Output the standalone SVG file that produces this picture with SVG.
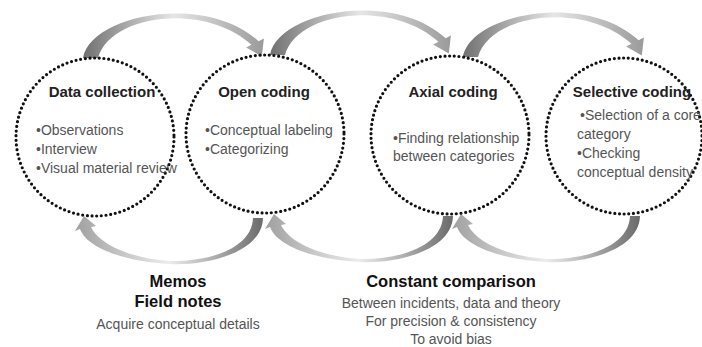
<svg xmlns="http://www.w3.org/2000/svg" width="702" height="347" viewBox="0 0 702 347">
<style>
.ring{fill:none;stroke:#111;stroke-width:3.2;stroke-dasharray:0 4.7;stroke-linecap:round}
.title{font-family:"Liberation Sans",Arial,sans-serif;font-weight:bold;font-size:15px;fill:#222;text-anchor:middle}
.item{font-family:"Liberation Sans",Arial,sans-serif;font-size:14px;fill:#555}
.big{font-family:"Liberation Sans",Arial,sans-serif;font-weight:bold;font-size:16.5px;fill:#111;text-anchor:middle}
.sub{font-family:"Liberation Sans",Arial,sans-serif;font-size:14px;fill:#555;text-anchor:middle}
</style>
<defs>
<linearGradient id="gt" x1="0" y1="0" x2="1" y2="0">
<stop offset="0" stop-color="#707070"/><stop offset="0.5" stop-color="#e6e6e6"/><stop offset="1" stop-color="#9a9a9a"/>
</linearGradient>
<linearGradient id="gb" x1="0" y1="0" x2="1" y2="0">
<stop offset="0" stop-color="#a0a0a0"/><stop offset="0.5" stop-color="#ececec"/><stop offset="1" stop-color="#6a6a6a"/>
</linearGradient>
<path id="topArrow" d="M83,58 C90,15 205,-8 258.6,41.2 L263.9,38.5 L261.8,56.4 L246.1,47.5 L251.4,44.8 C205,2 110,14 98,58 Z"/>
<path id="botArrow" d="M263,218 C262,255 200,266 170,264 C130,262 88,250 80,229 L75,231 L84,216 L96,226 L91,227 C100,246 135,259 170,261 C205,262 252,250 253,218 Z"/>
</defs>
<rect width="702" height="347" fill="#fff"/>
<g id="connectors">
<use href="#topArrow" fill="url(#gt)"/>
<use href="#topArrow" fill="url(#gt)" transform="translate(187,-3)"/>
<use href="#topArrow" fill="url(#gt)" transform="translate(380,-1)"/>
<use href="#botArrow" fill="url(#gb)"/>
<use href="#botArrow" fill="url(#gb)" transform="translate(190,-2)"/>
<use href="#botArrow" fill="url(#gb)" transform="translate(377,-2)"/>
</g>
<g id="data-collection">
<circle class="ring" cx="95" cy="137" r="79"/>
<text class="title" x="102" y="97">Data collection</text>
<text class="item" x="36" y="135">•Observations</text>
<text class="item" x="36" y="154">•Interview</text>
<text class="item" x="36" y="173">•Visual material review</text>
</g>
<g id="open-coding">
<circle class="ring" cx="265" cy="134" r="79"/>
<text class="title" x="264" y="97">Open coding</text>
<text class="item" x="205" y="135">•Conceptual labeling</text>
<text class="item" x="205" y="154">•Categorizing</text>
</g>
<g id="axial-coding">
<circle class="ring" cx="450" cy="135" r="79"/>
<text class="title" x="453" y="97">Axial coding</text>
<text class="item" x="393" y="143">•Finding relationship</text>
<text class="item" x="393" y="161">between categories</text>
</g>
<g id="selective-coding">
<circle class="ring" cx="624" cy="136" r="78"/>
<text class="title" x="632" y="97">Selective coding</text>
<text class="item" x="580" y="120">•Selection of a core</text>
<text class="item" x="577" y="139">category</text>
<text class="item" x="577" y="158">•Checking</text>
<text class="item" x="577" y="177">conceptual density</text>
</g>
<g id="memos">
<text class="big" x="178" y="287">Memos</text>
<text class="big" x="178" y="307">Field notes</text>
<text class="sub" x="178" y="329">Acquire conceptual details</text>
</g>
<g id="constant-comparison">
<text class="big" x="451" y="287">Constant comparison</text>
<text class="sub" x="451" y="308">Between incidents, data and theory</text>
<text class="sub" x="451" y="326">For precision &amp; consistency</text>
<text class="sub" x="451" y="344">To avoid bias</text>
</g>
</svg>
